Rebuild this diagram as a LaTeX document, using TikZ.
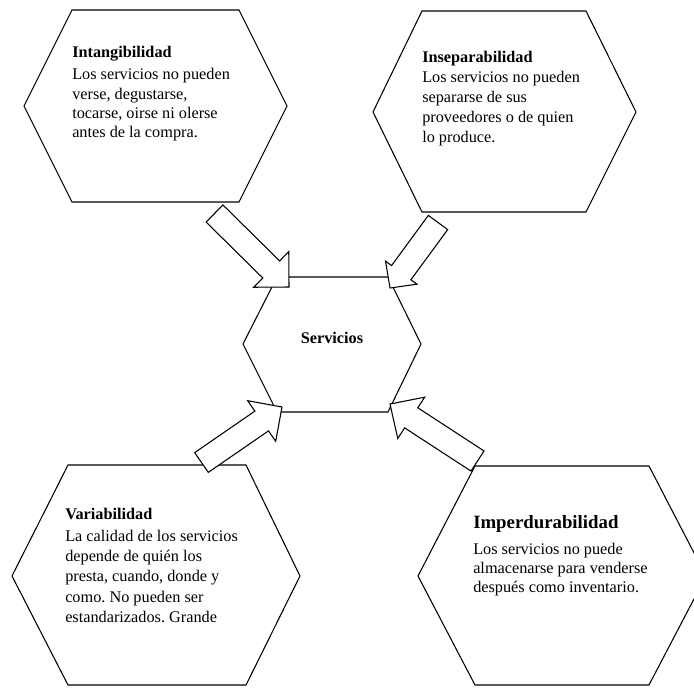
\documentclass[tikz,border=0pt]{standalone}
\usepackage{fontspec}
\setmainfont{Liberation Serif}
\frenchspacing
\usepackage{tikz}
\usetikzlibrary{calc}
\usetikzlibrary{positioning}

\tikzset{
  hexline/.style={line width=0.8pt},
  arrowbox/.style={line width=0.8pt,fill=white,line join=miter},
  txt/.style={anchor=north west,inner sep=0pt,align=left,font=\fontsize{12.2}{14.3}\selectfont}
}
% hollow block arrow: tail, tip, half head width, head length
\newcommand{\blockarrow}[4]{%
  \coordinate (#1#2) at ($(#2)!#4!(#1)$);
  \draw[arrowbox] ($(#1)!9pt!90:(#2)$) -- ($(#1#2)!9pt!-90:(#1)$) -- ($(#1#2)!#3!-90:(#1)$) -- (#2)
    -- ($(#1#2)!#3!90:(#1)$) -- ($(#1#2)!9pt!90:(#1)$) -- ($(#1)!9pt!-90:(#2)$) -- cycle;}

\begin{document}
\begin{tikzpicture}[x=0.75pt,y=-0.75pt]
\useasboundingbox (0,0) rectangle (694,687);
\clip (0,0) rectangle (694,687);
% hexagons
\draw[hexline] (24,106)--(72,10)--(239,10)--(287,106)--(239,202)--(72,202)--cycle;
\draw[hexline] (373,112)--(422,11)--(586,11)--(636,112)--(586,212)--(422,212)--cycle;
\draw[hexline] (243,344)--(277,277)--(388,277)--(421,344)--(388,412)--(277,412)--cycle;
\draw[hexline] (12,576)--(68,465)--(246,465)--(300,576)--(246,685)--(68,685)--cycle;
\draw[hexline] (418,576)--(475,466)--(649,466)--(706,576)--(649,685)--(475,685)--cycle;
% texts
\node[txt] (intang) at (72,46) {\textbf{Intangibilidad}\\[2.5pt]Los servicios no pueden\\verse, degustarse,\\tocarse, oirse ni olerse\\antes de la compra.};
\node[txt,font=\fontsize{12.2}{14.8}\selectfont] (insep) at (422,51) {\textbf{Inseparabilidad}\\[0.5pt]Los servicios no pueden\\separarse de sus\\proveedores o de quien\\lo produce.};
\node[txt,font=\fontsize{12.2}{15.1}\selectfont] (variab) at (65,508) {\textbf{Variabilidad}\\[1.5pt]La calidad de los servicios\\depende de quién los\\presta, cuando, donde y\\como. No pueden ser\\estandarizados. Grande};
\node[txt] (imperd) at (473,515) {{\fontsize{14.1}{17}\selectfont\textbf{Imperdurabilidad}}\\[5pt]Los servicios no puede\\almacenarse para venderse\\después como inventario.};
\node[font=\fontsize{12.2}{14.3}\selectfont\bfseries] (serv) at (332,338) {Servicios};
% arrows
\coordinate (t1) at (214.5,213.5);
\coordinate (h1) at (289,287);
\coordinate (t2) at (438,222.5);
\coordinate (h2) at (390,288);
\coordinate (t3) at (201.5,462.5);
\coordinate (h3) at (282,407);
\coordinate (t4) at (477.5,461);
\coordinate (h4) at (390,404);
\blockarrow{t1}{h1}{18.75pt}{18.75pt}
\blockarrow{t2}{h2}{14.6pt}{14.25pt}
\blockarrow{t3}{h3}{18.5pt}{18.5pt}
\blockarrow{t4}{h4}{18.5pt}{19pt}
\end{tikzpicture}
\end{document}
